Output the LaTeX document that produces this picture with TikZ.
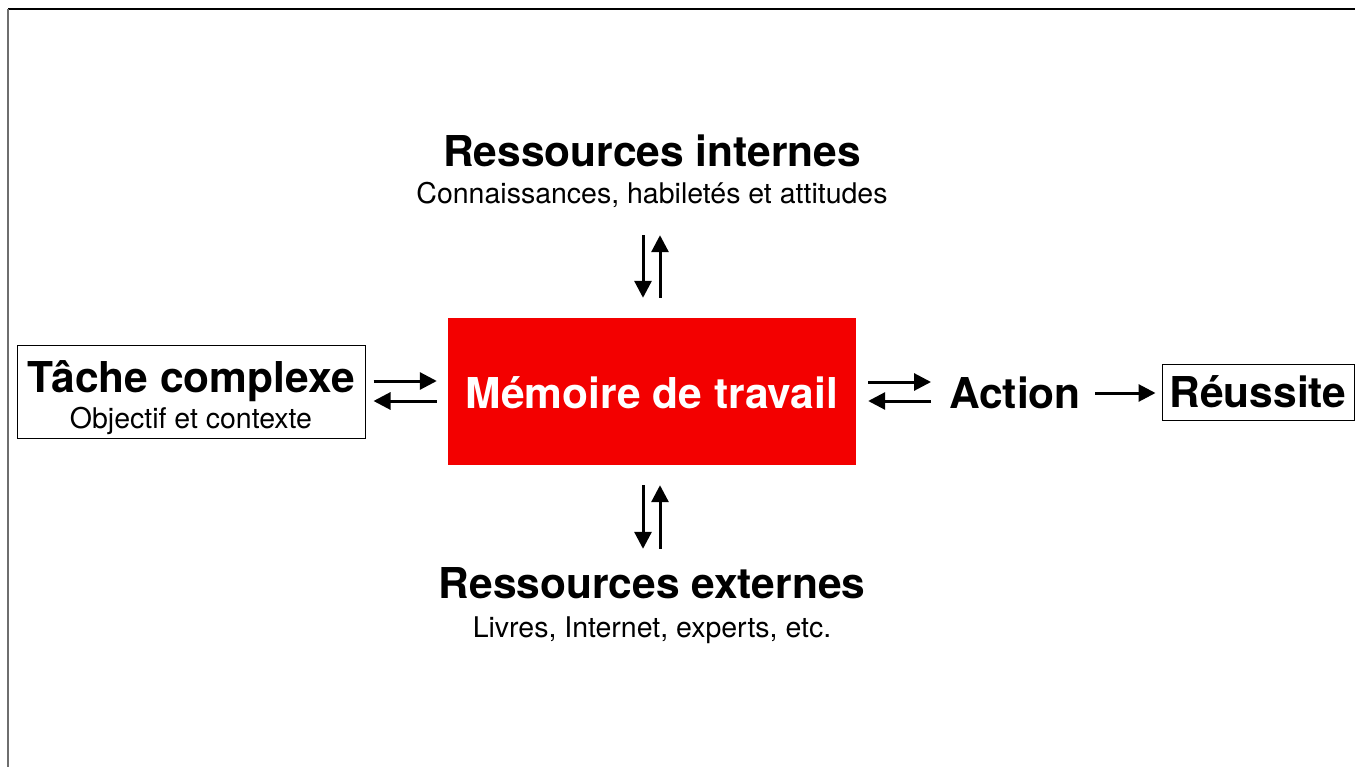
\documentclass[tikz,border=0pt]{standalone}
\usepackage{fontspec}
\setmainfont{TeX Gyre Heros}
\usetikzlibrary{arrows.meta}
\definecolor{memred}{RGB}{243,0,0}
\definecolor{framegray}{RGB}{110,110,110}
\begin{document}
\begin{tikzpicture}[x=1pt,y=-1pt,
  title/.style={font=\fontsize{42.5}{50}\selectfont\bfseries, inner sep=0pt,
                text height=30pt, text depth=0pt},
  sub/.style={font=\fontsize{28.5}{34}\selectfont, inner sep=0pt,
              text height=21pt, text depth=6pt},
  framebox/.style={draw, line width=1pt, inner sep=0pt},
  arr/.style={line width=3pt, -{Triangle[length=17pt,width=17pt]}},
  ]
\useasboundingbox (0,0) rectangle (1355,767);

% slide frame
\draw[line width=1.5pt] (8,9) -- (1356,9);
\draw[framegray, line width=2pt] (8,9) -- (8,768);

% internal resources
\node[title, anchor=base] (rint) at (652,167) {Ressources internes};
\node[sub, anchor=base] (rintsub) at (652,204) {Connaissances, habiletés et attitudes};

% working memory
\node[fill=memred, text=white, title, text height=33pt, text depth=0pt,
      minimum width=408pt, minimum height=147pt]
  (mem) at (652,391.5) {Mémoire de travail};

% external resources
\node[title, anchor=base] (rext) at (652,598) {Ressources externes};
\node[sub, anchor=base] (rextsub) at (652,637) {Livres, Internet, experts, etc.};

% complex task
\node[framebox, minimum width=348pt, minimum height=92pt] (tache) at (191,392) {};
\node[title, anchor=base] (tachetitle) at (191,392) {Tâche complexe};
\node[sub, anchor=base] (tachesub) at (191,428) {Objectif et contexte};

% action and success
\node[title, anchor=base] (action) at (1015,408) {Action};
\node[framebox, title, minimum width=192pt, minimum height=56pt]
  (reussite) at (1258,392) {Réussite};

% task <-> memory
\draw[arr] ([shift={(8,-11)}]tache.east) -- ([shift={(-11,-10.5)}]mem.west);
\draw[arr] ([shift={(-11,9.5)}]mem.west) -- ([shift={(8,9)}]tache.east);

% memory <-> action
\draw[arr] ([shift={(12,-9.5)}]mem.east) -- ([shift={(-18,-11)}]action.west);
\draw[arr] ([shift={(-18,8)}]action.west) -- ([shift={(12,9.5)}]mem.east);

% action -> success
\draw[arr] ([shift={(14,0)}]action.east) -- ([shift={(-6,1)}]reussite.west);

% internal resources <-> memory
\draw[arr] ([shift={(-9,25)}]rintsub.south) -- ([shift={(-9,-20)}]mem.north);
\draw[arr] ([shift={(8,-20)}]mem.north) -- ([shift={(8,25)}]rintsub.south);

% memory <-> external resources
\draw[arr] ([shift={(-9,20)}]mem.south) -- ([shift={(-9,-19)}]rext.north);
\draw[arr] ([shift={(8,-19)}]rext.north) -- ([shift={(8,20)}]mem.south);
\end{tikzpicture}
\end{document}
